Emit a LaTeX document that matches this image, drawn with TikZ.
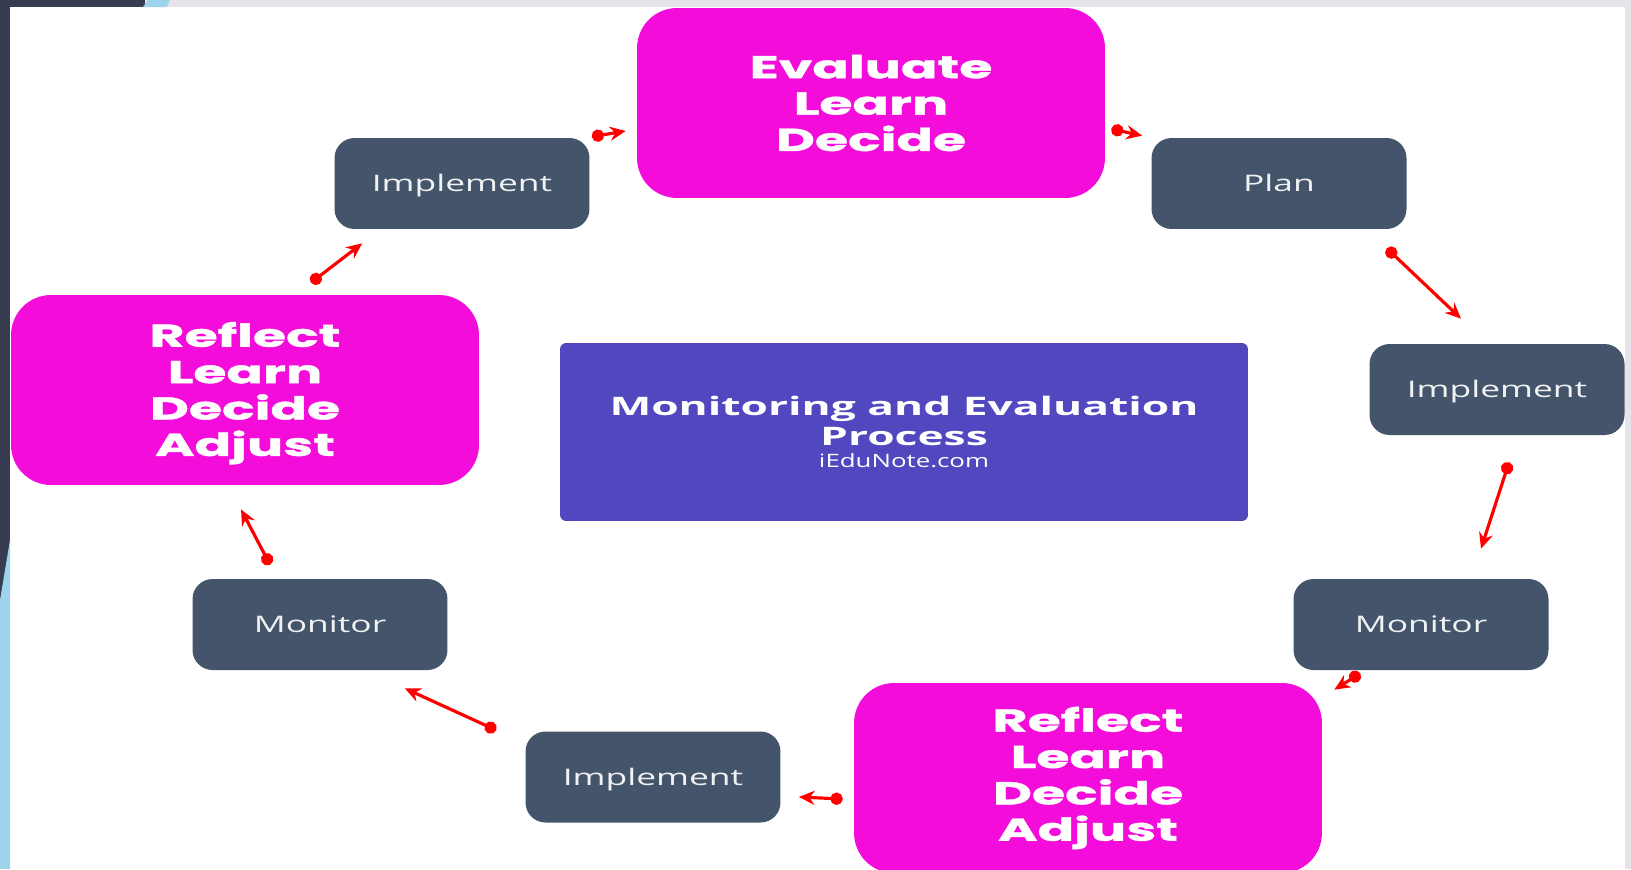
\documentclass[tikz,border=0pt]{standalone}
\usepackage{fontspec}
\usepackage{tikz}
\usetikzlibrary{calc}
\usetikzlibrary{arrows.meta}
\usetikzlibrary{positioning}
\definecolor{fuchsia}{RGB}{244, 12, 219}
\definecolor{slate}{RGB}{68, 84, 106}
\definecolor{iris}{RGB}{81, 72, 192}
\definecolor{scarlet}{RGB}{255, 0, 0}
\definecolor{cloud}{RGB}{230, 228, 232}
\definecolor{midnight}{RGB}{56, 60, 80}
\definecolor{skyblue}{RGB}{157, 211, 236}
\newfontfamily\stagefont{Open Sans}[FakeStretch=1.55]
\newfontfamily\notefont{Open Sans}[FakeStretch=1.4]
\newfontfamily\titlefont{Open Sans}[FakeStretch=1.74]
\newfontfamily\reviewfont{Poppins}[FakeStretch=1.7, BoldFeatures={FakeBold=1.2}]

\begin{document}
\begin{tikzpicture}[x=0.02cm, y=-0.02cm,
    stage/.style={fill=slate, text=white!92!slate, rounded corners=0.4cm,
                  minimum width=5.1cm, minimum height=1.82cm,
                  text height=0.92em, text depth=0pt,
                  font=\stagefont\fontsize{13}{15}\selectfont},
    review/.style={fill=fuchsia, text=white, rounded corners=0.8cm, align=center,
                   minimum width=9.36cm, minimum height=3.8cm,
                   font=\reviewfont\bfseries\fontsize{18}{20.7}\selectfont},
    flow/.style={draw=scarlet, line width=1.8pt,
                 {Circle[length=7pt]}-{Stealth[length=9pt, width=8pt]}}]
            \clip (0,0) rectangle (1631,869);
            \fill[white]    (0,0)    rectangle (1631,869);
            \fill[cloud]    (0,0)    rectangle (1631,7);
            \fill[cloud]    (1625,0) rectangle (1631,869);
            \fill[midnight] (0,0)    rectangle (145,7);
            \fill[midnight] (0,0)    rectangle (10,869);
            \fill[skyblue]  (143,7) -- (148,0) -- (170,0) -- (167,7) -- cycle;
            \fill[skyblue]  (0,869) -- (0,600) -- (10,540) -- (10,869) -- cycle;

            \node[review] (evaluate)   at (871,103)   {Evaluate\\Learn\\Decide};
            \node[review] (reflectL)   at (245,390)   {\\[-3pt]Reflect\\Learn\\Decide\\Adjust};
            \node[review] (reflectB)   at (1088,778)  {Reflect\\Learn\\Decide\\Adjust};
            \node[stage]  (implementL) at (462,183.5) {Implement};
            \node[stage]  (plan)       at (1279,183.5){Plan};
            \node[stage]  (implementR) at (1497,389.5){Implement};
            \node[stage]  (monitorL)   at (320,624.5) {Monitor};
            \node[stage]  (monitorR)   at (1421,624.5){Monitor};
            \node[stage]  (implementB) at (653,777)   {Implement};
            \node[fill=iris, text=white, rounded corners=0.12cm, align=center,
                  minimum width=13.76cm, minimum height=3.56cm,
                  font=\titlefont\bfseries\fontsize{14.5}{17}\selectfont]
                  (process) at (904,432) {Monitoring and Evaluation\\Process\\[-4pt]{\notefont\mdseries\fontsize{10.5}{12}\selectfont iEduNote.com}};

            \draw[flow] ([shift={(6,26)}]evaluate.east)       -- ([shift={(-9,-2)}]plan.north west);
            \draw[flow] ([shift={(-20,19)}]plan.south east)   -- ([shift={(-36,-25)}]implementR.north);
            \draw[flow] ([shift={(12,27)}]implementR.south)   -- ([shift={(60,-30)}]monitorR.north);
            \draw[flow] ([shift={(67,3)}]monitorR.south west) -- ([shift={(12,7)}]reflectB.north east);
            \draw[flow] ([shift={(-11,21)}]reflectB.west)     -- ([shift={(18,20)}]implementB.east);
            \draw[flow] ([shift={(-29,-1)}]implementB.north west) -- ([shift={(-43,18)}]monitorL.south east);
            \draw[flow] ([shift={(-50,-14)}]monitorL.north)   -- ([shift={(-4,24)}]reflectL.south);
            \draw[flow] ([shift={(66,-12)}]reflectL.north)    -- ([shift={(28,14)}]implementL.south west);
            \draw[flow] ([shift={(2,-1)}]implementL.north east) -- ([shift={(-11,28)}]evaluate.west);
        \end{tikzpicture}
\end{document}
